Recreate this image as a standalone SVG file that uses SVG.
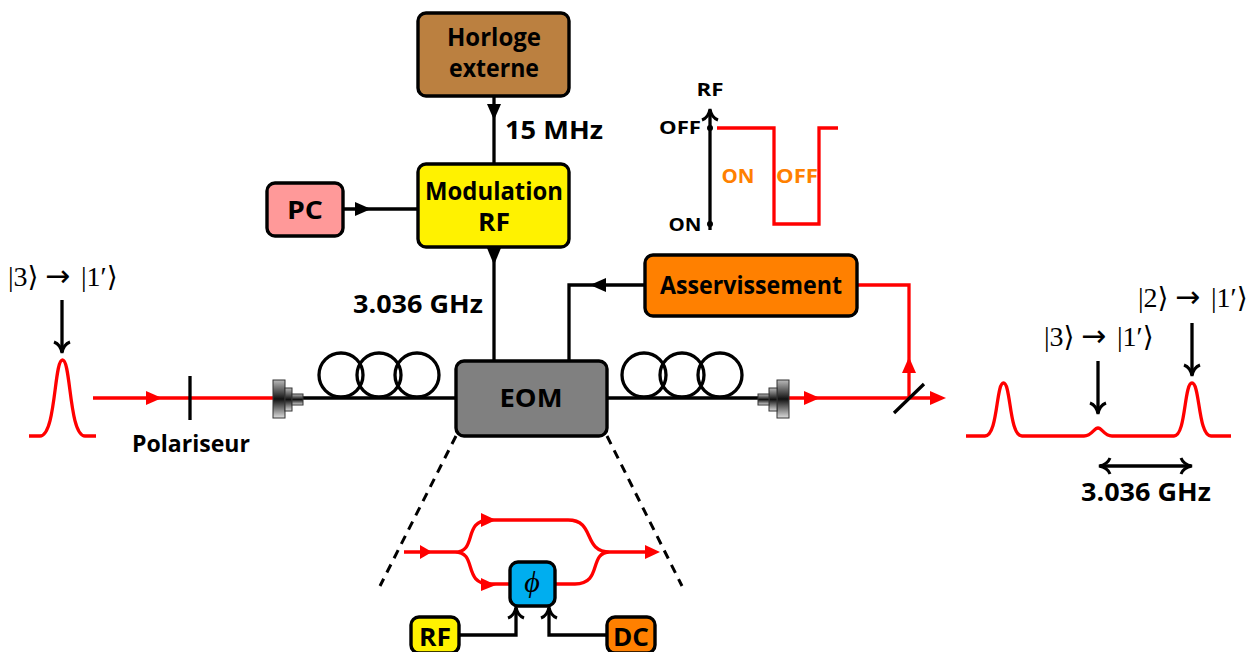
<svg xmlns="http://www.w3.org/2000/svg" width="1256" height="652" viewBox="0 0 1256 652">
<style>
.n{stroke:#000;stroke-width:3.4}
.t{font-family:"Open Sans","Liberation Sans",sans-serif;font-weight:700;fill:#000;text-anchor:middle}
.m{font-family:"Liberation Serif","DejaVu Serif",serif;font-size:28px;fill:#000}
.a{font-family:"DejaVu Sans",sans-serif;font-size:30px}
.k{fill:none;stroke:#000;stroke-width:3.300}
.r{fill:none;stroke:#f00;stroke-width:3.300}
.fk{fill:#000}
.fr{fill:#f00}
.c{stroke:#333;stroke-width:1;fill:url(#cg)}
.d{fill:none;stroke:#000;stroke-width:3;stroke-dasharray:9 7}
</style>
<defs>
<linearGradient id="cg" x1="0" y1="0" x2="0" y2="1">
<stop offset="0" stop-color="#bbb"/><stop offset="0.5" stop-color="#111"/><stop offset="1" stop-color="#ddd"/>
</linearGradient>
<marker id="op" viewBox="0 0 20 20" refX="17" refY="10" markerWidth="20" markerHeight="20" markerUnits="userSpaceOnUse" orient="auto-start-reverse">
<path d="M7 2C8.500 6 12 9 18 10C12 11 8.500 14 7 18" fill="none" stroke="#000" stroke-width="3"/>
</marker>
</defs>
<g id="connectors">
<path class="k" d="M494 96V164M343 209H418M494 247V361M569 361V285H645"/>
<polygon class="fk" points="487,104 501,104 494,120"/>
<polygon class="fk" points="355,202 355,216 371,209"/>
<polygon class="fk" points="487,248 501,248 494,265"/>
<polygon class="fk" points="606,278 606,292 590,285"/>
<path class="r" d="M857 285H909V398"/>
<polygon class="fr" points="902,373 916,373 909,357"/>
<path class="k" d="M303 398H456M608 398H758"/>
<path class="r" d="M93 398H273M789 398H935"/>
<polygon class="fr" points="146,391 146,405 162,398"/>
<polygon class="fr" points="804,391 804,405 820,398"/>
<polygon class="fr" points="930,391 930,405 946,398"/>
<path class="k" d="M190 376V420M894 413L924 384"/>
<path class="k" d="M62 300V352" marker-end="url(#op)"/>
<path class="k" d="M1098 361V413" marker-end="url(#op)"/>
<path class="k" d="M1192 323V375" marker-end="url(#op)"/>
<path class="k" d="M1100 466H1191" marker-start="url(#op)" marker-end="url(#op)"/>
<path class="k" d="M710 230V110" marker-end="url(#op)"/>
<path class="fk" d="M707 128a3 3 0 1 0 6 0a3 3 0 1 0-6 0M707 224a3 3 0 1 0 6 0a3 3 0 1 0-6 0"/>
<path class="r" d="M717 128H774V224H819V128H838"/>
<path class="d" d="M456 436L380 586M607 436L682 586"/>
<path class="r" d="M404 552H455C478 552 462 520 490 520H568C596 520 582 552 610 552H655M455 552C478 552 462 584 490 584H510M556 584H575C603 584 588 552 610 552"/>
<polygon class="fr" points="420,545 420,559 432,552"/>
<polygon class="fr" points="481,513 481,527 496,520"/>
<polygon class="fr" points="481,578 481,591 496,585"/>
<polygon class="fr" points="645,545 645,559 660,552"/>
<path class="k" d="M459 635H516V608" marker-end="url(#op)"/>
<path class="k" d="M607 635H549V608" marker-end="url(#op)"/>
</g>
<g id="fibre-left" class="k"><circle cx="341" cy="375" r="22"/><circle cx="379" cy="375" r="22"/><circle cx="417" cy="375" r="22"/></g>
<g id="fibre-right" class="k"><circle cx="644" cy="375" r="22"/><circle cx="682" cy="375" r="22"/><circle cx="720" cy="375" r="22"/></g>
<g id="collimator-left"><rect class="c" x="273" y="380" width="12" height="38"/><rect class="c" x="285" y="388" width="7" height="23"/><rect class="c" x="292" y="394" width="11" height="11"/></g>
<g id="collimator-right"><rect class="c" x="777" y="380" width="12" height="38"/><rect class="c" x="769" y="388" width="8" height="23"/><rect class="c" x="758" y="394" width="11" height="11"/></g>
<g id="pulse-left"><path class="r" d="M29 436H40C56 436 54 360 62.500 360C71 360 69 436 85 436H96"/></g>
<g id="spectrum"><path class="r" d="M966 436H985C998 436 996 383 1003.500 383C1011 383 1009 436 1022 436H1084C1092 436 1094 428 1098 428C1102 428 1104 436 1112 436H1174C1186 436 1184 383 1192 383C1200 383 1198 436 1211 436H1231"/></g>
<g id="horloge"><rect class="n" x="418" y="13" width="151" height="83" rx="8" fill="#bb8040"/><text class="t" x="494" y="46" font-size="25" lengthAdjust="spacingAndGlyphs" textLength="94">Horloge</text><text class="t" x="494" y="77" font-size="25" lengthAdjust="spacingAndGlyphs" textLength="90">externe</text></g>
<g id="modulation"><rect class="n" x="418" y="164" width="151" height="83" rx="8" fill="#fff200"/><text class="t" x="494" y="200" font-size="25" lengthAdjust="spacingAndGlyphs" textLength="138">Modulation</text><text class="t" x="494" y="231" font-size="25" lengthAdjust="spacingAndGlyphs" textLength="32">RF</text></g>
<g id="pc"><rect class="n" x="267" y="183" width="76" height="53" rx="8" fill="#ff9999"/><text class="t" x="305" y="219" font-size="25" lengthAdjust="spacingAndGlyphs" textLength="36">PC</text></g>
<g id="asservissement"><rect class="n" x="645" y="255" width="212" height="61" rx="8" fill="#ff8000"/><text class="t" x="751" y="294" font-size="25" lengthAdjust="spacingAndGlyphs" textLength="182">Asservissement</text></g>
<g id="eom"><rect class="n" x="456" y="361" width="151" height="75" rx="8" fill="#808080"/><text class="t" x="531" y="407" font-size="25" lengthAdjust="spacingAndGlyphs" textLength="63">EOM</text></g>
<g id="phi"><rect class="n" x="510" y="562" width="45" height="44" rx="8" fill="#00aeef"/><text x="532" y="592" font-family="Liberation Serif,serif" font-style="italic" font-size="30" text-anchor="middle">ϕ</text></g>
<g id="rf"><rect class="n" x="411" y="617" width="48" height="36" rx="8" fill="#fff200"/><text class="t" x="435" y="646" font-size="25" lengthAdjust="spacingAndGlyphs" textLength="32">RF</text></g>
<g id="dc"><rect class="n" x="607" y="617" width="48" height="36" rx="8" fill="#ff8000"/><text class="t" x="631" y="646" font-size="25" lengthAdjust="spacingAndGlyphs" textLength="36">DC</text></g>
<g id="labels">
<text class="t" x="554" y="139" font-size="25" lengthAdjust="spacingAndGlyphs" textLength="98">15 MHz</text>
<text class="t" x="418" y="313" font-size="25" lengthAdjust="spacingAndGlyphs" textLength="130">3.036 GHz</text>
<text class="t" x="191" y="452" font-size="24" lengthAdjust="spacingAndGlyphs" textLength="118">Polariseur</text>
<text class="t" x="1146" y="501" font-size="25" lengthAdjust="spacingAndGlyphs" textLength="130">3.036 GHz</text>
<text class="t" x="710" y="96" font-size="18" lengthAdjust="spacingAndGlyphs" textLength="27">RF</text>
<text class="t" x="680" y="134" font-size="18" lengthAdjust="spacingAndGlyphs" textLength="42">OFF</text>
<text class="t" x="685" y="231" font-size="18" lengthAdjust="spacingAndGlyphs" textLength="33">ON</text>
<text class="t" x="738" y="183" font-size="20" lengthAdjust="spacingAndGlyphs" textLength="33" style="fill:#ff8000">ON</text>
<text class="t" x="797" y="183" font-size="20" lengthAdjust="spacingAndGlyphs" textLength="42" style="fill:#ff8000">OFF</text>
<text class="m" x="8" y="286">|3⟩<tspan class="a" x="45">→</tspan><tspan x="81">|1′⟩</tspan></text>
<text class="m" x="1044" y="346">|3⟩<tspan class="a" x="1081">→</tspan><tspan x="1117">|1′⟩</tspan></text>
<text class="m" x="1138" y="307">|2⟩<tspan class="a" x="1175">→</tspan><tspan x="1211">|1′⟩</tspan></text>
</g>
</svg>
